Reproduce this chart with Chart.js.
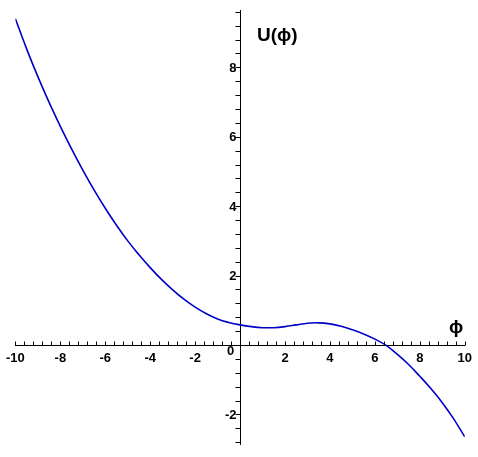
<!DOCTYPE html>
<html>
<head>
<meta charset="utf-8">
<script src="https://cdn.jsdelivr.net/npm/chart.js@4"></script>
<style>
  html, body { margin: 0; padding: 0; background: #ffffff; }
  #wrap { width: 478px; height: 457px; }
</style>
</head>
<body>
<div id="wrap"><canvas id="potentialChart" width="478" height="457"></canvas></div>
<script>
// phi values and U(phi)
const phiValues = [
  -10, -9.5, -9, -8.5, -8, -7.5, -7, -6.5, -6, -5.5, -5, -4.5, -4, -3.5, -3, -2.5, -2, -1.5, -1, -0.5,
  0, 0.5, 1, 1.5, 2, 2.5, 3, 3.5, 4, 4.5, 5, 5.5, 6, 6.5, 7, 7.5, 8, 8.5, 9, 9.5, 10
];
const uValues = [
  9.4, 8.53, 7.73, 6.99, 6.3, 5.65, 5.04, 4.47, 3.94, 3.45, 3.0, 2.6, 2.23, 1.89, 1.59, 1.32, 1.09, 0.9, 0.75, 0.65,
  0.58, 0.53, 0.5, 0.5, 0.53, 0.58, 0.63, 0.64, 0.61, 0.54, 0.44, 0.32, 0.17, -0.01, -0.27, -0.56, -0.9, -1.26, -1.66, -2.12, -2.64
];
const xTickLabels = [-10, -8, -6, -4, -2, 2, 4, 6, 8, 10];
const yTickLabels = [-2, 2, 4, 6, 8];

const labelFont = { family: 'Liberation Sans, Arial, sans-serif', size: 13, weight: 'bold' };

// small ticks (every 0.4), y labels left of the axis, axis names
const axisDecorPlugin = {
  id: 'axisDecor',
  afterDraw: (chart) => {
    const ctx = chart.ctx;
    const xs = chart.scales.x;
    const ys = chart.scales.y;
    const x0 = Math.round(xs.getPixelForValue(0)) + 0.5;
    const y0 = Math.round(ys.getPixelForValue(0)) + 0.5;

    ctx.save();
    ctx.strokeStyle = '#000000';
    ctx.lineWidth = 1;
    ctx.beginPath();
    for (let i = -25; i <= 25; i++) {
      const px = Math.round(xs.getPixelForValue(i * 0.4)) + 0.5;
      ctx.moveTo(px, y0);
      ctx.lineTo(px, y0 - 4);
    }
    for (let i = -7; i <= 24; i++) {
      const py = Math.round(ys.getPixelForValue(i * 0.4)) + 0.5;
      ctx.moveTo(x0, py);
      ctx.lineTo(x0 - 5, py);
    }
    ctx.stroke();

    ctx.fillStyle = '#000000';
    ctx.font = 'bold 13px Liberation Sans, Arial, sans-serif';
    ctx.textAlign = 'right';
    ctx.textBaseline = 'middle';
    yTickLabels.forEach(v => {
      ctx.fillText(String(v), x0 - 4, ys.getPixelForValue(v) + 1);
    });
    ctx.textAlign = 'center';
    ctx.fillText('0', x0 - 10, y0 + 6);

    ctx.font = 'bold 19px Liberation Sans, Arial, sans-serif';
    ctx.textAlign = 'left';
    ctx.textBaseline = 'alphabetic';
    ctx.fillText('U(\u03d5)', 257, 41);
    ctx.fillText('\u03d5', 449, 333);
    ctx.restore();
  }
};

window.addEventListener('DOMContentLoaded', () => {
  const ctx = document.getElementById('potentialChart').getContext('2d');
  new Chart(ctx, {
    type: 'line',
    data: {
      datasets: [{
        data: phiValues.map((p, i) => ({ x: p, y: uValues[i] })),
        borderColor: '#0000c8',
        borderWidth: 1.6,
        pointRadius: 0,
        tension: 0.4,
        fill: false
      }]
    },
    options: {
      responsive: false,
      animation: false,
      layout: { padding: { left: 12, right: 11, top: 10, bottom: 13 } },
      plugins: { legend: { display: false }, tooltip: { enabled: false } },
      scales: {
        x: {
          type: 'linear',
          min: -10,
          max: 10,
          position: { y: 0 },
          afterBuildTicks: (scale) => { scale.ticks = xTickLabels.map(v => ({ value: v })); },
          grid: { display: true, drawOnChartArea: false, drawTicks: false },
          border: { display: true, color: '#000000', width: 1 },
          ticks: { color: '#000000', font: labelFont, padding: 6, autoSkip: false, maxRotation: 0 }
        },
        y: {
          type: 'linear',
          min: -2.85,
          max: 9.65,
          position: { x: 0 },
          afterBuildTicks: (scale) => { scale.ticks = yTickLabels.map(v => ({ value: v })); },
          grid: { display: true, drawOnChartArea: false, drawTicks: false },
          border: { display: true, color: '#000000', width: 1 },
          ticks: { display: false }
        }
      }
    },
    plugins: [axisDecorPlugin]
  });
});
</script>
</body>
</html>
